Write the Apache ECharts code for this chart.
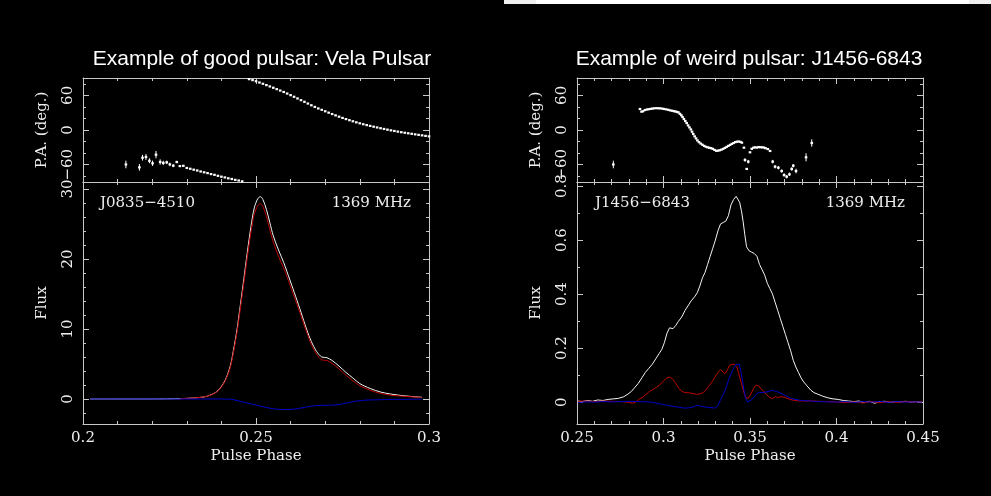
<!DOCTYPE html>
<html>
<head>
    <meta http-equiv="Content-Type" content="text/html; charset=utf-8" />
    <title>Pulsar profiles</title>
    <style>
        html, body { margin: 0; padding: 0; background: #000; }
        #main { width: 991px; height: 496px; }
    </style>
</head>
<body>
    <div id="main"></div>
    <script src="https://cdn.jsdelivr.net/npm/echarts@6/dist/echarts.min.js"></script>
    <script type="text/javascript">
        // ---- axis ticks ----
        var velaPhaseMajor = [0.2, 0.25, 0.3];
        var velaPhaseMinor = [0.21, 0.22, 0.23, 0.24, 0.26, 0.27, 0.28, 0.29];
        var weirdPhaseMajor = [0.25, 0.3, 0.35, 0.4, 0.45];
        var weirdPhaseMinor = [0.26, 0.27, 0.28, 0.29, 0.31, 0.32, 0.33, 0.34, 0.36, 0.37, 0.38, 0.39, 0.41, 0.42, 0.43, 0.44];
        var paMajor = [-60, 0, 60];
        var paMinor = [-80, -40, -20, 20, 40, 80];
        var velaFluxMajor = [0, 10, 20, 30];
        var velaFluxMinor = [-2, 2, 4, 6, 8, 12, 14, 16, 18, 22, 24, 26, 28];
        var weirdFluxMajor = [0, 0.2, 0.4, 0.6, 0.8];
        var weirdFluxMinor = [0.1, 0.3, 0.5, 0.7];

        // ---- Vela (J0835-4510): [phase, flux] ----
        var velaTotal = [[0.202,0],[0.21,0],[0.22,0],[0.228,0.05],[0.232,0.15],[0.235,0.3],[0.237,0.6],[0.239,1.2],[0.241,2.6],[0.2425,4.6],[0.2435,7],[0.2445,9.9],[0.2455,13.5],[0.2465,17.2],[0.2475,21],[0.2485,24.5],[0.2495,27.3],[0.2505,28.6],[0.2513,28.9],[0.252,28.5],[0.253,27.1],[0.254,25.2],[0.255,23.3],[0.2565,21.3],[0.258,19.5],[0.2598,17.0],[0.2615,14.6],[0.263,12.4],[0.2646,10.0],[0.266,8.2],[0.2675,6.8],[0.269,6.0],[0.2705,5.9],[0.272,5.5],[0.274,4.7],[0.276,3.8],[0.278,3.0],[0.280,2.2],[0.283,1.5],[0.286,1.0],[0.289,0.7],[0.293,0.45],[0.296,0.32],[0.298,0.25]];
        var velaLinear = [[0.228,0.05],[0.232,0.15],[0.235,0.3],[0.237,0.58],[0.239,1.15],[0.241,2.5],[0.2425,4.4],[0.2435,6.7],[0.2445,9.5],[0.2455,13],[0.2465,16.6],[0.2475,20.3],[0.2485,23.7],[0.2495,26.4],[0.2505,27.6],[0.2513,27.9],[0.252,27.5],[0.253,26.1],[0.254,24.2],[0.255,22.4],[0.2565,20.4],[0.258,18.7],[0.2598,16.3],[0.2615,14.0],[0.263,11.9],[0.2646,9.6],[0.266,7.8],[0.2675,6.4],[0.269,5.6],[0.2705,5.5],[0.272,5.1],[0.274,4.3],[0.276,3.4],[0.278,2.6],[0.280,1.9],[0.283,1.25],[0.286,0.8],[0.289,0.55],[0.293,0.38],[0.296,0.28],[0.298,0.22]];
        var velaCircular = [[0.202,0],[0.21,0],[0.22,0],[0.23,0],[0.24,0],[0.243,-0.05],[0.246,-0.4],[0.249,-0.75],[0.252,-1.1],[0.255,-1.4],[0.258,-1.5],[0.261,-1.45],[0.264,-1.2],[0.267,-0.95],[0.27,-0.9],[0.273,-0.85],[0.276,-0.6],[0.279,-0.3],[0.282,-0.15],[0.286,-0.1],[0.29,-0.05],[0.294,-0.05],[0.298,0]];
        // [phase, PA, error]
        var velaPA = [[0.2124,-59.7,6.6],[0.2163,-64.6,5.8],[0.2172,-48,4.9],[0.2182,-46.7,5],[0.2192,-53.3,4.3],[0.2201,-57.6,4.6],[0.2211,-42.7,6.3],[0.2223,-55.4,4.6],[0.2232,-57,3.7],[0.2242,-56,3],[0.2251,-59.5,3],[0.2261,-61.8,2.5],[0.2271,-55.4,2],[0.228,-62.5,1.5],[0.229,-62,1],
            [0.230,-65.7,0],[0.231,-67.1,0],[0.232,-68.7,0],[0.233,-70.1,0],[0.234,-71.8,0],[0.235,-73.2,0],[0.236,-74.6,0],[0.237,-76.3,0],[0.238,-77.6,0],[0.239,-79.3,0],[0.240,-80.8,0],[0.241,-82.1,0],[0.242,-83.6,0],[0.243,-84.8,0],[0.244,-86.3,0],[0.245,-87.4,0],[0.246,-88.9,0],
            [0.248,88.0,0],[0.249,86.3,0],[0.250,84.4,0],[0.251,82.2,0],[0.252,80.0,0],[0.253,77.7,0],[0.254,75.4,0],[0.255,73.1,0],[0.256,70.7,0],[0.257,68.3,0],[0.258,65.8,0],[0.259,63.1,0],[0.260,60.3,0],[0.261,57.5,0],[0.262,54.6,0],[0.263,51.6,0],[0.264,48.8,0],[0.265,45.8,0],[0.266,42.8,0],[0.267,40.0,0],[0.268,37.3,0],[0.269,34.9,0],[0.270,32.4,0],[0.271,30.0,0],[0.272,27.6,0],[0.273,25.3,0],[0.274,23.0,0],[0.275,20.9,0],[0.276,18.9,0],[0.277,17.0,0],[0.278,15.1,0],[0.279,13.3,0],[0.280,11.6,0],[0.281,10.0,0],[0.282,8.5,0],[0.283,7.1,0],[0.284,5.7,0],[0.285,4.4,0],[0.286,3.1,0],[0.287,1.8,0],[0.288,0.6,0],[0.289,-0.6,0],[0.290,-1.7,0],[0.291,-2.8,0],[0.292,-3.8,0],[0.293,-4.8,0],[0.294,-5.7,0],[0.295,-6.6,0],[0.296,-7.5,0],[0.297,-8.4,0],[0.298,-9.3,0],[0.299,-10.2,0],[0.300,-11.0,0]];

        // ---- J1456-6843: [phase, flux] ----
        var weirdTotal = [[0.2505,0.004],[0.253,0.002],[0.256,0.006],[0.259,0.003],[0.262,0.008],[0.265,0.006],[0.268,0.01],[0.271,0.012],[0.274,0.014],[0.277,0.02],[0.2795,0.03],[0.2815,0.04],[0.2835,0.055],[0.2855,0.07],[0.2875,0.09],[0.2895,0.11],[0.2915,0.125],[0.2935,0.14],[0.2955,0.16],[0.2975,0.18],[0.299,0.195],[0.3005,0.22],[0.302,0.255],[0.3035,0.275],[0.3055,0.272],[0.307,0.283],[0.3085,0.298],[0.3105,0.315],[0.3125,0.34],[0.3145,0.36],[0.316,0.375],[0.318,0.39],[0.3195,0.405],[0.321,0.43],[0.3225,0.46],[0.324,0.48],[0.3255,0.51],[0.327,0.54],[0.3285,0.57],[0.33,0.6],[0.3315,0.635],[0.333,0.66],[0.3345,0.665],[0.336,0.67],[0.3375,0.69],[0.339,0.73],[0.3405,0.75],[0.342,0.762],[0.343,0.76],[0.344,0.74],[0.345,0.71],[0.346,0.67],[0.347,0.62],[0.348,0.575],[0.3495,0.56],[0.351,0.555],[0.3525,0.55],[0.354,0.54],[0.3555,0.51],[0.357,0.49],[0.3585,0.47],[0.36,0.44],[0.3615,0.42],[0.363,0.4],[0.3645,0.37],[0.366,0.34],[0.3675,0.31],[0.369,0.28],[0.3705,0.25],[0.372,0.22],[0.3735,0.19],[0.375,0.155],[0.3765,0.13],[0.378,0.11],[0.3795,0.09],[0.381,0.075],[0.383,0.06],[0.385,0.045],[0.387,0.035],[0.389,0.03],[0.392,0.022],[0.395,0.016],[0.398,0.012],[0.401,0.01],[0.404,0.006],[0.407,0.004],[0.41,0.002],[0.413,0.004],[0.416,-0.002],[0.419,0.003],[0.422,-0.004],[0.425,0.002],[0.428,0.003],[0.431,-0.001],[0.434,0.002],[0.437,0.001],[0.44,0.003],[0.443,0],[0.446,0.002],[0.4495,0.001]];
        var weirdLinear = [[0.2505,0.003],[0.255,0.004],[0.26,0.002],[0.265,0.004],[0.27,0.003],[0.275,0.002],[0.279,0],[0.282,-0.004],[0.284,0],[0.286,0.012],[0.288,0.018],[0.29,0.03],[0.292,0.04],[0.294,0.047],[0.296,0.055],[0.298,0.065],[0.3,0.078],[0.302,0.09],[0.303,0.096],[0.304,0.093],[0.3055,0.083],[0.307,0.07],[0.3085,0.055],[0.31,0.043],[0.3115,0.037],[0.313,0.035],[0.315,0.034],[0.317,0.032],[0.319,0.029],[0.321,0.03],[0.323,0.036],[0.3245,0.045],[0.326,0.058],[0.328,0.075],[0.33,0.095],[0.3315,0.11],[0.333,0.12],[0.334,0.118],[0.3355,0.105],[0.337,0.12],[0.338,0.135],[0.3395,0.14],[0.341,0.14],[0.3425,0.13],[0.3435,0.105],[0.345,0.07],[0.3465,0.035],[0.3475,0.018],[0.349,0.014],[0.3505,0.03],[0.352,0.05],[0.3535,0.063],[0.355,0.06],[0.3565,0.048],[0.358,0.04],[0.3595,0.028],[0.3615,0.017],[0.363,0.013],[0.3645,0.02],[0.366,0.017],[0.368,0.02],[0.3705,0.017],[0.373,0.01],[0.376,0.006],[0.38,0.004],[0.385,0.005],[0.39,0.003],[0.395,0.002],[0.4,0],[0.405,-0.002],[0.41,0.001],[0.415,-0.003],[0.42,0.002],[0.425,-0.002],[0.43,0.002],[0.435,-0.001],[0.44,0.002],[0.445,0],[0.4495,0.002]];
        var weirdCircular = [[0.2505,-0.002],[0.255,0.001],[0.26,0],[0.265,0.002],[0.27,0.001],[0.275,0.002],[0.28,0.003],[0.285,0.002],[0.29,0.001],[0.294,-0.001],[0.297,-0.005],[0.3,-0.009],[0.303,-0.013],[0.306,-0.016],[0.309,-0.019],[0.312,-0.022],[0.315,-0.021],[0.317,-0.018],[0.3185,-0.014],[0.32,-0.012],[0.322,-0.016],[0.325,-0.019],[0.328,-0.021],[0.33,-0.022],[0.3315,-0.012],[0.333,0.01],[0.3345,0.027],[0.336,0.05],[0.3375,0.08],[0.339,0.105],[0.3405,0.125],[0.342,0.14],[0.343,0.145],[0.3438,0.14],[0.3445,0.12],[0.3455,0.085],[0.3465,0.045],[0.3475,0.015],[0.3485,0],[0.3495,0.002],[0.351,0.009],[0.3525,0.02],[0.354,0.032],[0.3555,0.036],[0.357,0.035],[0.359,0.037],[0.361,0.04],[0.3625,0.043],[0.364,0.042],[0.366,0.038],[0.368,0.032],[0.37,0.026],[0.372,0.019],[0.374,0.013],[0.377,0.009],[0.38,0.006],[0.385,0.004],[0.39,0.002],[0.395,0.001],[0.4,0],[0.405,0.002],[0.41,-0.001],[0.415,0.002],[0.42,0],[0.425,0.003],[0.43,-0.001],[0.435,0.002],[0.44,0],[0.445,0.001],[0.4495,0]];
        var weirdPA = [[0.271,-59.7,6.6],
            [0.2864,36.3,0],[0.2873,31.7,0],[0.2882,32.5,0],[0.2893,34.6,0],[0.2905,35.5,0],[0.2915,36.0,0],[0.2925,36.5,0],[0.2935,37.0,0],[0.2945,37.5,0],[0.2958,37.8,0],[0.297,37.6,0],[0.298,37.5,0],[0.2992,37.0,0],[0.3003,36.4,0],[0.3015,35.7,0],[0.3027,35.0,0],[0.3038,34.0,0],[0.305,33.3,0],[0.306,32.6,0],[0.307,32.0,0],[0.3078,31.2,0],[0.3086,30.6,0],[0.3095,28.0,0],[0.3103,25.5,0],[0.311,22.5,0],[0.3118,19.0,0],[0.3126,15.5,0],[0.3134,12.0,0],[0.3142,8.0,0],[0.315,4.5,0],[0.3158,1.0,0],[0.3165,-3.0,0],[0.3172,-7.0,0],[0.318,-11.0,0],[0.3188,-14.5,0],[0.3196,-18.0,0],[0.3205,-21.0,0],[0.3215,-23.5,0],[0.3225,-25.5,0],[0.3235,-27.5,0],[0.3245,-29.0,0],[0.3255,-30.0,0],[0.3265,-30.8,0],[0.3275,-31.5,0],[0.3285,-32.6,0],[0.3295,-34.5,0],[0.3305,-36.0,0],[0.3315,-35.8,0],[0.3325,-35.0,0],[0.3335,-34.0,0],[0.3345,-32.6,0],[0.3355,-31.0,0],[0.3365,-29.2,0],[0.3375,-27.5,0],[0.3385,-25.8,0],[0.3395,-24.0,0],[0.3405,-22.5,0],[0.3415,-21.0,0],[0.3425,-20.2,0],[0.3435,-20.0,0],[0.3445,-20.6,0],[0.3453,-22.0,0],[0.3465,-30.6,0],
            [0.3471,-51.9,3],[0.349,-54.8,3],[0.3481,-67.4,0],
            [0.35,-38.6,0],[0.351,-32.5,0],[0.352,-30.6,0],[0.353,-30.0,0],[0.354,-30.5,0],[0.355,-29.5,0],[0.356,-29.8,0],[0.357,-30.0,0],[0.358,-30.4,0],[0.359,-31.5,0],[0.3603,-33.0,0],[0.3616,-36.3,0],
            [0.3631,-54.8,3],[0.3645,-63.5,3],[0.3664,-65.3,3],[0.3683,-71,3],[0.3697,-77.9,3],[0.3712,-80.8,3],[0.3728,-76.7,3],[0.3741,-67.5,3],[0.375,-61.8,3],[0.3766,-71,4],[0.3824,-47.3,7],[0.3857,-22.5,6.4]];

        var AXIS_COLOR = '#c8c8c8';
        var TEXT_COLOR = '#eeeeee';
        var SERIF = 'DejaVu Serif';
        var WHITE = '#f4f4f4', RED = '#c00000', BLUE = '#0000c8';

        var grids = [
            {left: 83, top: 78, width: 346, height: 104},   // vela PA
            {left: 83, top: 182, width: 346, height: 242},  // vela flux
            {left: 577, top: 78, width: 346, height: 104},  // weird PA
            {left: 577, top: 182, width: 346, height: 242}  // weird flux
        ];

        var xAxes = [], yAxes = [];

        function minusFmt(v) {
            return String(v).replace('-', '\u2212');
        }

        // box axis with major + minor ticks on both sides; returns index of the main axis
        function addAxes(list, dim, gridIndex, min, max, major, minor, label, name, nameGap) {
            var sides = dim === 'x' ? ['bottom', 'top'] : ['left', 'right'];
            var mainIndex = list.length;
            sides.forEach(function (pos, s) {
                [major, minor].forEach(function (vals, m) {
                    var ax = {
                        type: 'value', gridIndex: gridIndex, position: pos,
                        min: min, max: max,
                        splitLine: {show: false},
                        axisLine: {show: m === 0, onZero: false, lineStyle: {color: AXIS_COLOR, width: 1}},
                        axisTick: {show: true, inside: true, length: m === 0 ? 6 : 3, customValues: vals,
                            lineStyle: {color: AXIS_COLOR, width: 1}},
                        axisLabel: {show: false}
                    };
                    if (s === 0 && m === 0) {
                        if (label) {
                            ax.axisLabel = {
                                show: true, customValues: vals, color: TEXT_COLOR,
                                fontFamily: SERIF, fontSize: 15, margin: 7,
                                rotate: dim === 'y' ? 90 : 0,
                                formatter: minusFmt
                            };
                        }
                        if (name) {
                            ax.name = name;
                            ax.nameLocation = 'middle';
                            ax.nameGap = nameGap;
                            ax.nameTextStyle = {color: TEXT_COLOR, fontFamily: SERIF, fontSize: 15};
                        }
                    }
                    if (m === 0 && s === 0) mainIndex = list.length;
                    list.push(ax);
                });
            });
            return mainIndex;
        }

        var vPaX = addAxes(xAxes, 'x', 0, 0.2, 0.3, velaPhaseMajor, velaPhaseMinor, false);
        var vPaY = addAxes(yAxes, 'y', 0, -90, 90, paMajor, paMinor, true, 'P.A. (deg.)', 33);
        var vFlX = addAxes(xAxes, 'x', 1, 0.2, 0.3, velaPhaseMajor, velaPhaseMinor, true, 'Pulse Phase', 25);
        var vFlY = addAxes(yAxes, 'y', 1, -3.57, 31, velaFluxMajor, velaFluxMinor, true, 'Flux', 33);
        var wPaX = addAxes(xAxes, 'x', 2, 0.25, 0.45, weirdPhaseMajor, weirdPhaseMinor, false);
        var wPaY = addAxes(yAxes, 'y', 2, -90, 90, paMajor, paMinor, true, 'P.A. (deg.)', 33);
        var wFlX = addAxes(xAxes, 'x', 3, 0.25, 0.45, weirdPhaseMajor, weirdPhaseMinor, true, 'Pulse Phase', 25);
        var wFlY = addAxes(yAxes, 'y', 3, -0.081, 0.815, weirdFluxMajor, weirdFluxMinor, true, 'Flux', 33);

        function renderPA(params, api) {
            var x = api.value(0), y = api.value(1), e = api.value(2);
            var c = api.coord([x, y]);
            var children = [{
                type: 'rect',
                shape: {x: c[0] - 1.3, y: c[1] - 1.1, width: 2.6, height: 2.2},
                style: {fill: '#ffffff'}
            }];
            if (e > 0) {
                var top = api.coord([x, y + e]);
                var bot = api.coord([x, y - e]);
                children.push({
                    type: 'line',
                    shape: {x1: c[0], y1: top[1], x2: c[0], y2: bot[1]},
                    style: {stroke: '#ffffff', lineWidth: 1}
                });
            }
            return {type: 'group', children: children};
        }

        function lineSeries(data, color, xi, yi, smooth) {
            return {
                type: 'line', data: data, xAxisIndex: xi, yAxisIndex: yi,
                showSymbol: false, smooth: smooth, silent: true,
                lineStyle: {color: color, width: 1}
            };
        }

        function paSeries(data, xi, yi) {
            return {
                type: 'custom', data: data, xAxisIndex: xi, yAxisIndex: yi,
                renderItem: renderPA, silent: true
            };
        }

        var titleStyle = {color: '#ffffff', fontFamily: 'Liberation Sans', fontSize: 21, fontWeight: 'normal'};

        var option = {
            animation: false,
            backgroundColor: '#000000',
            title: [
                {text: 'Example of good pulsar: Vela Pulsar', left: 257, top: 44, textAlign: 'center', textStyle: titleStyle},
                {text: 'Example of weird pulsar: J1456-6843', left: 744, top: 44, textAlign: 'center', textStyle: titleStyle}
            ],
            grid: grids.map(function (g) {
                return Object.assign({show: false, containLabel: false, outerBoundsMode: 'none'}, g);
            }),
            xAxis: xAxes,
            yAxis: yAxes,
            graphic: [
                {type: 'rect', shape: {x: 504, y: 0, width: 487, height: 4}, style: {fill: '#eeeeee'}, silent: true},
                {type: 'rect', shape: {x: 536, y: 0, width: 433, height: 4}, style: {fill: '#ffffff'}, silent: true},
                {type: 'text', left: 100, top: 196, style: {text: 'J0835\u22124510', fill: TEXT_COLOR, font: '15px "DejaVu Serif"'}, silent: true},
                {type: 'text', right: 991 - 411, top: 196, style: {text: '1369 MHz', fill: TEXT_COLOR, font: '15px "DejaVu Serif"'}, silent: true},
                {type: 'text', left: 595, top: 196, style: {text: 'J1456\u22126843', fill: TEXT_COLOR, font: '15px "DejaVu Serif"'}, silent: true},
                {type: 'text', right: 991 - 905, top: 196, style: {text: '1369 MHz', fill: TEXT_COLOR, font: '15px "DejaVu Serif"'}, silent: true}
            ],
            series: [
                paSeries(velaPA, vPaX, vPaY),
                lineSeries(velaTotal, WHITE, vFlX, vFlY, 0.3),
                lineSeries(velaLinear, RED, vFlX, vFlY, 0.3),
                lineSeries(velaCircular, BLUE, vFlX, vFlY, 0.3),
                paSeries(weirdPA, wPaX, wPaY),
                lineSeries(weirdTotal, WHITE, wFlX, wFlY, false),
                lineSeries(weirdLinear, RED, wFlX, wFlY, false),
                lineSeries(weirdCircular, BLUE, wFlX, wFlY, false)
            ]
        };

        var myChart = echarts.init(document.getElementById('main'));
        myChart.setOption(option);
    </script>
</body>
</html>
